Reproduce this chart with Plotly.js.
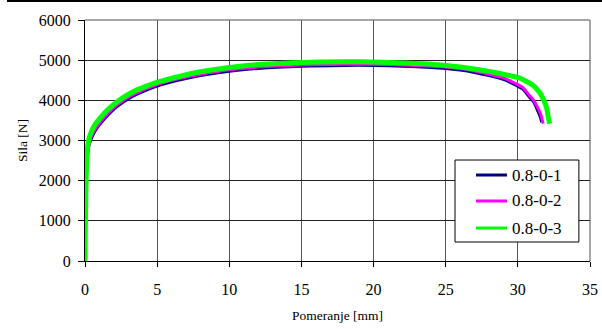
<!DOCTYPE html>
<html>
<head>
<meta charset="utf-8">
<script src="https://cdn.plot.ly/plotly-3.0.1.min.js"></script>
<style>
html,body{margin:0;padding:0;background:#fff;}
#wrap{position:relative;width:602px;height:329px;}
#topline{position:absolute;left:7px;top:0;width:595px;height:2px;background:#000;z-index:5;}
#chart{position:absolute;left:0;top:0;width:602px;height:329px;}
</style>
</head>
<body>
<div id="wrap"><div id="chart"></div><div id="topline"></div></div>
<script>
// Series names
const seriesNames = ["0.8-0-1", "0.8-0-2", "0.8-0-3"];
const seriesColors = ["#000080", "#FF00FF", "#00FF00"];

// 0.8-0-1
const x1 = [0, 0.03, 0.06, 0.1, 0.15, 0.2, 0.3, 0.45, 0.7, 1.0, 1.5, 2.2, 3.2, 4.3, 5.2, 6.6, 8, 10, 12, 15, 18, 20, 22, 24, 25, 26, 27, 28, 29, 29.5, 30, 30.4, 30.8, 31.1, 31.35, 31.52, 31.66];
const y1 = [0, 780, 1470, 2060, 2460, 2710, 2910, 3060, 3240, 3390, 3600, 3840, 4080, 4260, 4380, 4510, 4615, 4725, 4795, 4850, 4870, 4870, 4850, 4815, 4795, 4755, 4695, 4615, 4520, 4440, 4350, 4260, 4080, 3960, 3760, 3620, 3450];

// 0.8-0-2
const x2 = [0, 0.03, 0.06, 0.1, 0.15, 0.2, 0.3, 0.45, 0.7, 1.0, 1.5, 2.2, 3.2, 4.3, 5.2, 6.6, 8, 10, 12, 15, 18, 20, 22, 24, 25, 26, 27, 28, 29, 29.5, 30, 30.4, 30.8, 31.1, 31.4, 31.57, 31.75];
const y2 = [0, 800, 1500, 2100, 2500, 2750, 2950, 3100, 3280, 3430, 3640, 3880, 4120, 4300, 4420, 4550, 4650, 4760, 4830, 4880, 4900, 4900, 4880, 4850, 4830, 4790, 4730, 4650, 4560, 4480, 4390, 4300, 4120, 4000, 3800, 3670, 3420];

// 0.8-0-3
const x3 = [0, 0.02, 0.05, 0.08, 0.12, 0.18, 0.3, 0.45, 0.7, 1.0, 1.5, 2.2, 3.2, 4.3, 5.2, 6.6, 8, 10, 12, 15, 18, 20, 22, 24, 25, 26, 27, 28, 29, 29.5, 30, 30.5, 31, 31.5, 31.8, 32.0, 32.1, 32.2];
const y3 = [0, 800, 1500, 2100, 2550, 2850, 3080, 3230, 3400, 3540, 3740, 3960, 4190, 4360, 4470, 4600, 4710, 4820, 4890, 4945, 4960, 4955, 4930, 4900, 4870, 4830, 4780, 4720, 4650, 4610, 4570, 4490, 4390, 4200, 4000, 3800, 3600, 3420];

const xTicks = [0, 5, 10, 15, 20, 25, 30, 35];
const yTicks = [0, 1000, 2000, 3000, 4000, 5000, 6000];

const xs = [x1, x2, x3], ys = [y1, y2, y3];
const widths = [3, 3, 5];
const traces = seriesNames.map((n, i) => ({
  x: xs[i], y: ys[i], name: n, type: 'scatter', mode: 'lines', showlegend: false,
  line: {color: seriesColors[i], width: widths[i], shape: 'spline', smoothing: 0.6}
}));

const FAM = 'Liberation Serif';
const f = (s) => ({family: FAM, size: s, color: '#000'});

// Legend drawn in paper coordinates (box, sample lines, labels)
const legBox = {x0: 0.7327, x1: 0.978, y0: 0.0788, y1: 0.419};
const legLineX = [0.7743, 0.8356];
const legTextX = 0.8416;
const legRowsY = [0.3568, 0.249, 0.1369];

const shapes = [
  {type: 'line', xref: 'paper', yref: 'paper', x0: 0, x1: 1, y0: 1, y1: 1, line: {color: '#888', width: 1.5}, layer: 'below'},
  {type: 'line', xref: 'paper', yref: 'paper', x0: 1, x1: 1, y0: 0, y1: 1, line: {color: '#888', width: 1.5}, layer: 'below'},
  {type: 'rect', xref: 'paper', yref: 'paper', x0: legBox.x0, x1: legBox.x1, y0: legBox.y0, y1: legBox.y1,
   line: {color: '#000', width: 1}, fillcolor: '#fff', layer: 'above'}
];
const annotations = [];
seriesNames.forEach((n, i) => {
  shapes.push({type: 'line', xref: 'paper', yref: 'paper', x0: legLineX[0], x1: legLineX[1], y0: legRowsY[i], y1: legRowsY[i],
    line: {color: seriesColors[i], width: 3}, layer: 'above'});
  annotations.push({xref: 'paper', yref: 'paper', x: legTextX, y: legRowsY[i], xanchor: 'left', yanchor: 'middle',
    text: n, showarrow: false, font: f(17)});
});

const layout = {
  width: 602, height: 329,
  margin: {l: 85, r: 12, t: 20, b: 68},
  paper_bgcolor: '#fff', plot_bgcolor: '#fff',
  showlegend: false,
  font: f(16),
  xaxis: {
    range: [0, 35], tickvals: xTicks, ticktext: xTicks.map(String),
    showgrid: true, gridcolor: '#555', gridwidth: 1,
    zeroline: false, showline: true, linecolor: '#000', linewidth: 1,
    ticks: 'outside', ticklen: 5, tickcolor: '#000', ticklabelstandoff: 9,
    tickfont: f(16),
    title: {text: 'Pomeranje [mm]', font: f(13.5), standoff: 13}
  },
  yaxis: {
    range: [0, 6000], tickvals: yTicks, ticktext: yTicks.map(String),
    showgrid: true, gridcolor: '#222', gridwidth: 1,
    zeroline: false, showline: true, linecolor: '#000', linewidth: 1,
    ticks: 'outside', ticklen: 6, tickcolor: '#000', ticklabelstandoff: 4,
    tickfont: f(16),
    title: {text: 'Sila [N]', font: f(13.5), standoff: 8}
  },
  shapes: shapes,
  annotations: annotations
};

Plotly.newPlot('chart', traces, layout, {displayModeBar: false, staticPlot: true});
</script>
</body>
</html>
